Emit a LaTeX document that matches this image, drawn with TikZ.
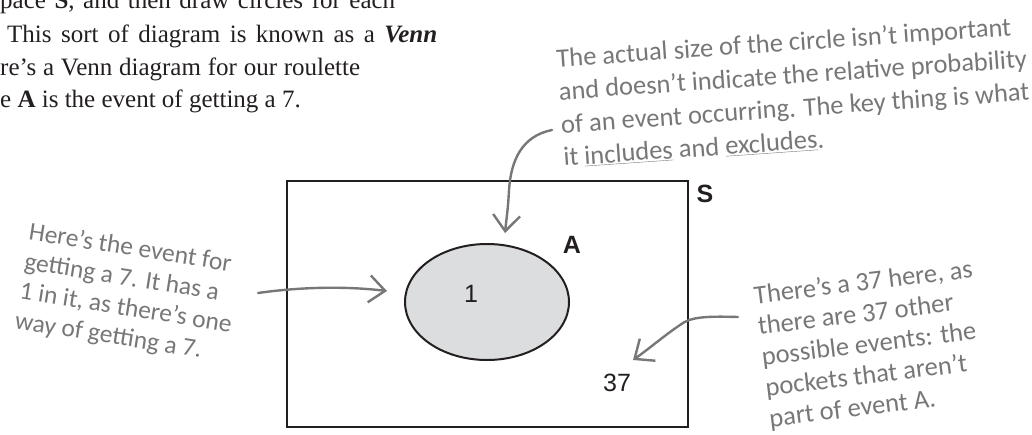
\documentclass[tikz,border=0pt]{standalone}
\usepackage{fontspec}
\usepackage{xcolor}
\setmainfont{Liberation Serif}
\newfontfamily\handfont{Carlito}
\newfontfamily\vennfont{Liberation Sans}
\definecolor{inkblack}{RGB}{35, 31, 32}
\definecolor{handgray}{RGB}{118, 119, 121}
\definecolor{setgray}{RGB}{220, 221, 223}
\usetikzlibrary{shapes.geometric, arrows.meta}
\tikzset{
  % --- TEXT ---
  body-text/.style={
    anchor=base west,
    inner sep=0pt,
    text=inkblack,
    font=\fontsize{25}{29}\selectfont
  },
  hand-note/.style n args={2}{
    text=handgray,
    font=\handfont\fontsize{#1}{#2}\selectfont,
    align=left,
    inner sep=0pt
  },
  % --- VENN ---
  venn-box/.style={
    draw=inkblack,
    line width=2.6pt,
    minimum width=401pt,
    minimum height=246pt,
    inner sep=0pt
  },
  venn-set/.style={
    ellipse,
    draw=inkblack,
    line width=2pt,
    fill=setgray,
    minimum width=164pt,
    minimum height=116pt,
    inner sep=0pt
  },
  venn-label/.style={
    font=\vennfont\bfseries\fontsize{25}{25}\selectfont,
    text=inkblack,
    inner sep=0pt
  },
  venn-count/.style={
    font=\vennfont\fontsize{25}{25}\selectfont,
    text=inkblack,
    inner sep=0pt
  },
  % --- ARROWS ---
  hand-arrow/.style={
    draw=handgray,
    line width=2.4pt,
    line cap=round,
    -{Straight Barb[length=16pt, width=27pt, line width=2.4pt]}
  },
}

\begin{document}
\begin{tikzpicture}[x=1pt, y=-1pt]
  \useasboundingbox (0,0) rectangle (1032,434);
  \clip (0,0) rectangle (1032,434);
  % --- body text (justified, cut off at the left)
  \node[body-text] (body1) at (0,8)   {\makebox[395pt][s]{pace \textbf{S}, and then draw circles for each}};
  \node[body-text] (body2) at (7,42)  {\makebox[430pt][s]{This sort of diagram is known as a \textbf{\textit{Venn}}}};
  \node[body-text] (body3) at (0,75)  {\makebox[360pt][s]{re’s a Venn diagram for our roulette}};
  \node[body-text] (body4) at (0,107) {e \textbf{A} is the event of getting a 7.};
  % --- sample space and event
  \node[venn-box]   (space)  at (487.5,304) {};
  \node[venn-set]   (eventA) at (487,302) {};
  \node[venn-count] (inA)    at (471,294) {1};
  \node[venn-count] (outA)   at (617,383) {37};
  \node[venn-label] (labA)   at (572,245) {A};
  \node[venn-label] (labS)   at (705,194) {S};
  % --- handwritten notes
  \node[hand-note={26.5}{33}, rotate=4]  (sizeNote)  at (794,92)
    {The actual size of the circle isn’t important\\and doesn’t indicate the relative probability\\of an event occurring. The key thing is what\\it \underline{includes} and \underline{excludes}.};
  \node[hand-note={25.5}{30}, rotate=-9] (eventNote) at (128,294)
    {Here’s the event for\\getting a 7. It has a\\1 in it, as there’s one\\way of getting a 7.};
  \node[hand-note={26.5}{31}, rotate=7]  (otherNote) at (871,345)
    {There’s a 37 here, as\\there are 37 other\\possible events: the\\pockets that aren’t\\part of event A.};
  % --- arrows from the notes
  \coordinate (sizeTail)  at (552,130);
  \coordinate (sizeTip)   at (505,233);
  \coordinate (eventTail) at (258,293);
  \coordinate (eventTip)  at (387,291);
  \coordinate (otherTail) at (738,317);
  \coordinate (otherTip)  at (633,360);
  \draw[hand-arrow] (sizeTail) .. controls (522,136) and (511,160) .. (509,190)
    .. controls (508,210) and (506,222) .. (sizeTip);
  \draw[hand-arrow] (eventTail) .. controls (300,287) and (345,286) .. (eventTip);
  \draw[hand-arrow] (otherTail) .. controls (705,316) and (690,317) .. (680,325)
    .. controls (665,335) and (650,348) .. (otherTip);
\end{tikzpicture}
\end{document}
